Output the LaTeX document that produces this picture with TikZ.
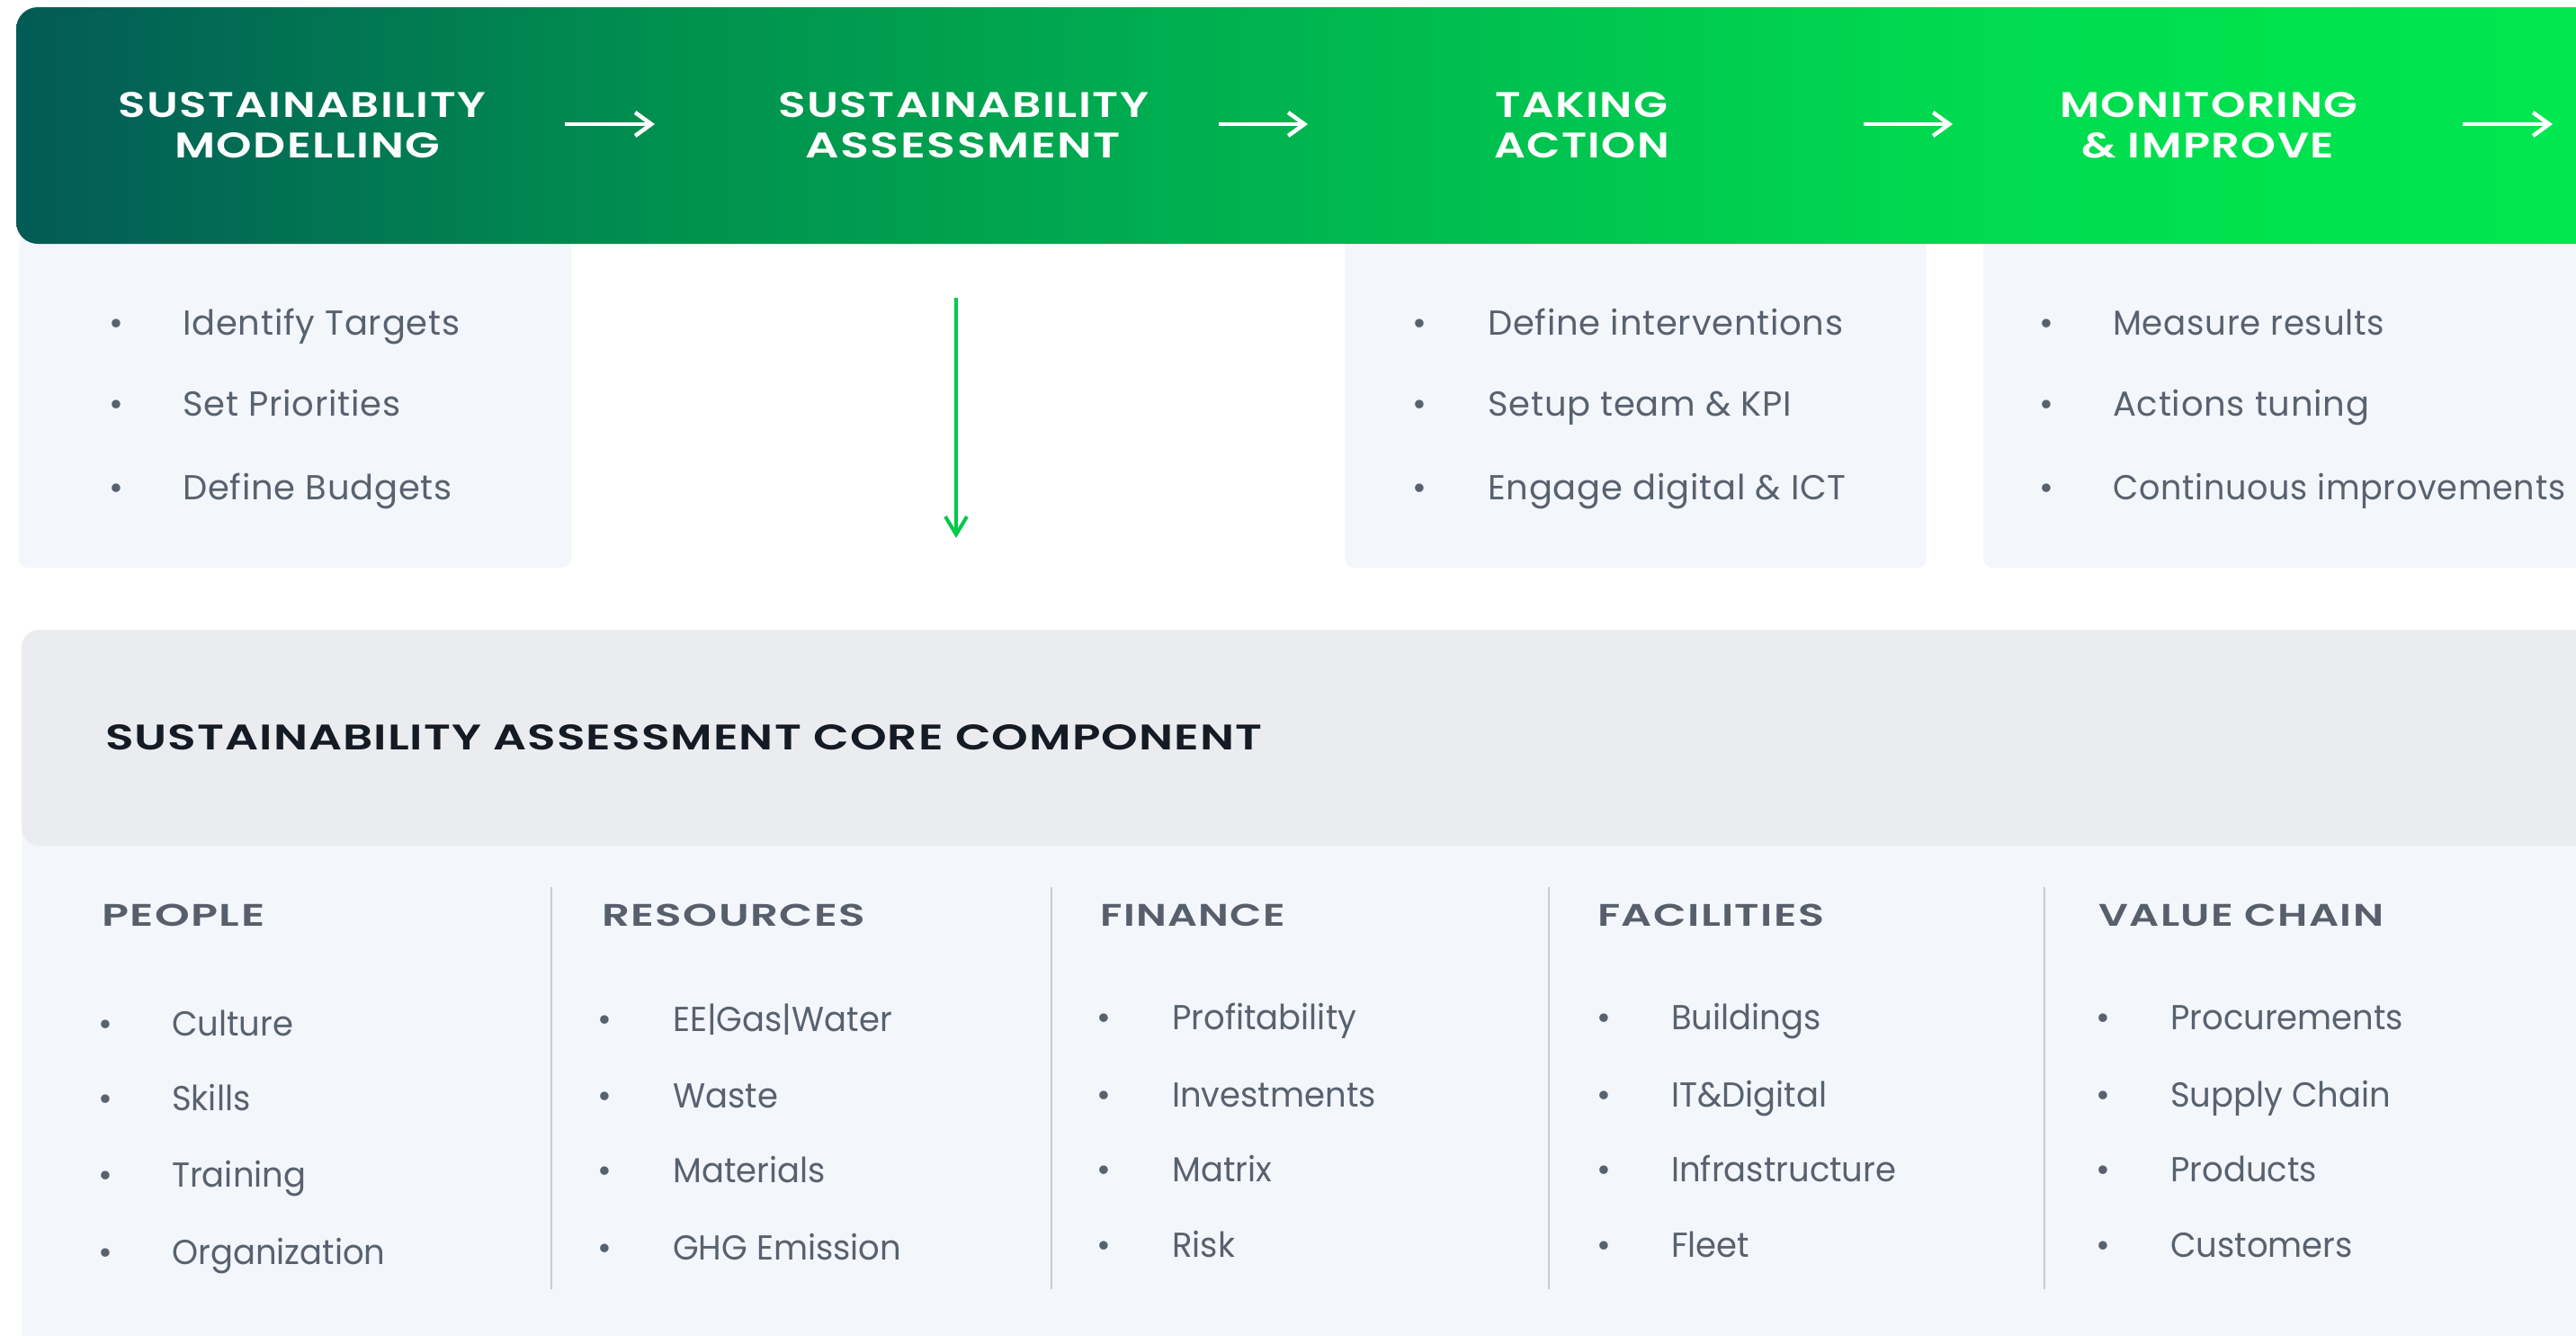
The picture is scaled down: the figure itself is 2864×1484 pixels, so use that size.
\documentclass[tikz,border=0pt]{standalone}
\usepackage{fontspec}
\usepackage{graphicx}
\setmainfont{Poppins}
\usetikzlibrary{arrows.meta}
\IfFontExistsTF{Poppins SemiBold}
  {\newfontfamily\bannerfont[LetterSpace=3]{Poppins SemiBold}
   \newfontfamily\titlefont[LetterSpace=2]{Poppins SemiBold}
   \newfontfamily\headfont[LetterSpace=3]{Poppins SemiBold}}
  {\newfontfamily\bannerfont[LetterSpace=3]{Poppins}
   \newfontfamily\titlefont[LetterSpace=2]{Poppins}
   \newfontfamily\headfont[LetterSpace=3]{Poppins}}
\newfontfamily\bodyfont[LetterSpace=2]{Poppins}
\newfontfamily\colfont[FakeStretch=0.96]{Poppins}
\definecolor{gA}{HTML}{035A56}
\definecolor{gB}{HTML}{00904F}
\definecolor{gC}{HTML}{00B650}
\definecolor{gD}{HTML}{00DA4F}
\definecolor{gE}{HTML}{00E84F}
\definecolor{panelfill}{HTML}{F3F6FB}
\definecolor{headerfill}{HTML}{EBECF0}
\definecolor{itemgray}{HTML}{58626F}
\definecolor{headgray}{HTML}{565F6B}
\definecolor{divgray}{HTML}{C8CDD3}
\definecolor{titledark}{HTML}{151B24}
\definecolor{arrowgreen}{HTML}{00C94B}
\pgfdeclarehorizontalshading{bannershade}{100bp}{color(0bp)=(gA); color(25bp)=(gA); color(37.5bp)=(gB); color(50bp)=(gC); color(62.5bp)=(gD); color(75bp)=(gE); color(100bp)=(gE)}
\tikzset{
  bannertxt/.style={font=\bannerfont\fontsize{38.5}{45}\selectfont, text=white, inner sep=0pt, anchor=base west},
  whitearrow/.style={draw=white, line width=4.5pt, -{Straight Barb[length=18pt,width=26pt]}},
  greenarrow/.style={draw=arrowgreen, line width=4pt, -{Straight Barb[length=20pt,width=24pt]}},
  itm/.style={font=\bodyfont\fontsize{38.5}{46}\selectfont, text=itemgray, inner sep=0pt, anchor=base west},
  bul/.style={font=\bodyfont\fontsize{38.5}{46}\selectfont, text=itemgray, inner sep=0pt, anchor=base},
  citm/.style={font=\colfont\fontsize{38.5}{46}\selectfont, text=itemgray, inner sep=0pt, anchor=base west},
  headtxt/.style={font=\headfont\fontsize{36}{44}\selectfont, text=headgray, inner sep=0pt, anchor=base west},
  titletxt/.style={font=\titlefont\fontsize{38.5}{46}\selectfont, text=titledark, inner sep=0pt, anchor=base west},
  divider/.style={draw=divgray, line width=2pt}
}
\newcommand{\fitbox}[3]{\resizebox{#1pt}{#2pt}{#3}}
\newcommand{\bitem}[5]{%
  \node[bul] (#1b) at (#2,#4) {\textbullet};
  \node[itm] (#1) at (#3,#4) {#5};
}
\newcommand{\citem}[5]{%
  \node[bul] (#1b) at (#2,#4) {\textbullet};
  \node[citm] (#1) at (#3,#4) {#5};
}
\begin{document}
\begin{tikzpicture}[x=1pt,y=-1pt]
\useasboundingbox (0,0) rectangle (2864,1484);
\fill[white] (0,0) rectangle (2864,1484);

% step panels
\fill[panelfill, rounded corners=10pt] (21,262) rectangle (635,631);
\fill[panelfill, rounded corners=10pt] (1495,262) rectangle (2142,631);
\fill[panelfill, rounded corners=10pt] (2205,262) rectangle (2920,631);

% banner
\shade[shading=bannershade, rounded corners=24pt] (18,8) rectangle (2900,271);

% banner titles
\node[bannertxt] (t1a) at (131,130) {\fitbox{409}{28}{SUSTAINABILITY}};
\node[bannertxt] (t1b) at (194,175) {\fitbox{295}{28}{MODELLING}};
\node[bannertxt] (t2a) at (865,130) {\fitbox{412}{28}{SUSTAINABILITY}};
\node[bannertxt] (t2b) at (895,175) {\fitbox{351}{28}{ASSESSMENT}};
\node[bannertxt] (t3a) at (1662,130) {\fitbox{192}{28}{TAKING}};
\node[bannertxt] (t3b) at (1661,175) {\fitbox{195}{28}{ACTION}};
\node[bannertxt] (t4a) at (2290,130) {\fitbox{331}{28}{MONITORING}};
\node[bannertxt] (t4b) at (2314,175) {\fitbox{281}{28}{\& IMPROVE}};

% banner arrows
\coordinate (a1s) at (628,138); \coordinate (a1e) at (728,138);
\coordinate (a2s) at (1355,138); \coordinate (a2e) at (1454,138);
\coordinate (a3s) at (2072,138); \coordinate (a3e) at (2171,138);
\coordinate (a4s) at (2738,138); \coordinate (a4e) at (2838,138);
\draw[whitearrow] (a1s) -- (a1e);
\draw[whitearrow] (a2s) -- (a2e);
\draw[whitearrow] (a3s) -- (a3e);
\draw[whitearrow] (a4s) -- (a4e);

% panel items
\bitem{p1i1}{129}{203}{372}{Identify Targets}
\bitem{p1i2}{129}{203}{462}{Set Priorities}
\bitem{p1i3}{129}{203}{555}{Define Budgets}
\bitem{p3i1}{1578}{1654}{372}{Define interventions}
\bitem{p3i2}{1578}{1654}{462}{Setup team \& KPI}
\bitem{p3i3}{1578}{1654}{555}{Engage digital \& ICT}
\bitem{p4i1}{2275}{2349}{372}{\scalebox{0.965}[1]{Measure results}}
\bitem{p4i2}{2275}{2349}{462}{Actions tuning}
\bitem{p4i3}{2275}{2349}{555}{\scalebox{0.95}[1]{Continuous improvements}}

% green arrow down
\coordinate (gs) at (1063,331); \coordinate (ge) at (1063,598);
\draw[greenarrow] (gs) -- (ge);

% core component
\fill[panelfill, rounded corners=20pt] (24,700) rectangle (2920,1540);
\fill[headerfill, rounded corners=20pt] (24,700) rectangle (2920,940);
\node[titletxt] (core) at (117,833) {\fitbox{1286}{28}{SUSTAINABILITY ASSESSMENT CORE COMPONENT}};

% dividers
\draw[divider] (613,986) -- (613,1433);
\draw[divider] (1169,986) -- (1169,1433);
\draw[divider] (1722,986) -- (1722,1433);
\draw[divider] (2273,986) -- (2273,1433);

% headings
\node[headtxt] (h1) at (113,1029) {\fitbox{181}{24.5}{PEOPLE}};
\node[headtxt] (h2) at (669,1029) {\fitbox{293}{24.5}{RESOURCES}};
\node[headtxt] (h3) at (1223,1029) {\fitbox{206}{24.5}{FINANCE}};
\node[headtxt] (h4) at (1776,1029) {\fitbox{252}{24.5}{FACILITIES}};
\node[headtxt] (h5) at (2333,1029) {\fitbox{317}{24.5}{VALUE CHAIN}};

% column items
\citem{c1i1}{117}{191}{1151}{Culture}
\citem{c1i2}{117}{191}{1234}{Skills}
\citem{c1i3}{117}{191}{1319}{Training}
\citem{c1i4}{117}{191}{1405}{Organization}
\citem{c2i1}{672}{748}{1146}{EE|Gas|Water}
\citem{c2i2}{672}{748}{1231}{Waste}
\citem{c2i3}{672}{748}{1314}{Materials}
\citem{c2i4}{672}{748}{1400}{GHG Emission}
\citem{c3i1}{1227}{1303}{1144}{Profitability}
\citem{c3i2}{1227}{1303}{1230}{Investments}
\citem{c3i3}{1227}{1303}{1313}{Matrix}
\citem{c3i4}{1227}{1303}{1397}{Risk}
\citem{c4i1}{1783}{1858}{1144}{Buildings}
\citem{c4i2}{1783}{1858}{1230}{IT\&Digital}
\citem{c4i3}{1783}{1858}{1313}{Infrastructure}
\citem{c4i4}{1783}{1858}{1397}{Fleet}
\citem{c5i1}{2338}{2413}{1144}{Procurements}
\citem{c5i2}{2338}{2413}{1230}{Supply Chain}
\citem{c5i3}{2338}{2413}{1313}{Products}
\citem{c5i4}{2338}{2413}{1397}{Customers}
\end{tikzpicture}
\end{document}
